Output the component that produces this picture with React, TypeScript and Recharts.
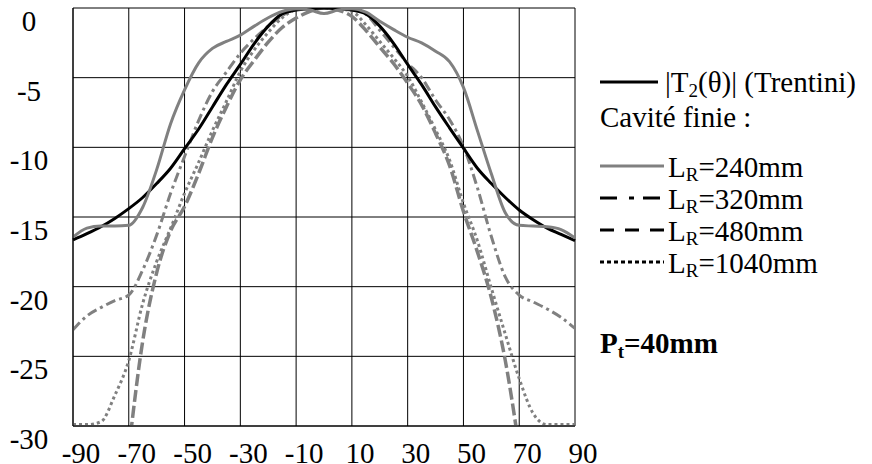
import { LineChart, Line, XAxis, YAxis, CartesianGrid } from "recharts";

const FONT = "Liberation Serif, Times New Roman, Tinos, serif";

// angle, degrees
const THETA = [
  -90, -85, -80, -75, -70, -65, -60, -55, -50, -45, -40, -35, -30, -25, -20,
  -15, -10, -5, 0, 5, 10, 15, 20, 25, 30, 35, 40, 45, 50, 55, 60, 65, 70, 75,
  80, 85, 90,
];

// |T2(θ)| (Trentini), dB
const TRENTINI = [
  -16.65, -16.2, -15.7, -15.1, -14.4, -13.6, -12.6, -11.5, -10.1, -8.7, -7.1,
  -5.5, -4.05, -2.55, -1.3, -0.42, -0.15, -0.05, 0, -0.05, -0.15, -0.42, -1.3,
  -2.55, -4.05, -5.5, -7.1, -8.6, -10.06, -11.5, -12.6, -13.6, -14.5, -15.2,
  -15.8, -16.25, -16.7,
];

// cavité finie, LR = 240 mm
const LR240 = [
  -16.45, -15.8, -15.65, -15.65, -15.6, -14.3, -11.6, -8.3, -5.87, -3.95, -2.9,
  -2.4, -1.95, -1.3, -0.7, -0.25, -0.05, -0.15, -0.4, -0.15, -0.05, -0.3,
  -0.95, -1.55, -2.1, -2.5, -3.1, -3.85, -5.7, -8.8, -11.9, -14.7, -15.6,
  -15.65, -15.7, -15.9, -16.5,
];

// LR = 320 mm
const LR320 = [
  -23.1, -22.1, -21.5, -21.0, -20.6, -18.8, -16.3, -13.3, -10.66, -8.1, -6.0,
  -4.6, -3.25, -2.2, -1.3, -0.55, -0.08, 0, 0, 0, -0.08, -0.45, -1.6, -2.8,
  -3.95, -5.0, -6.6, -8.0, -9.94, -12.9, -16.4, -19.3, -20.6, -21.1, -21.6,
  -22.2, -23.0,
];

// LR = 480 mm (goes below -30 outside ±70)
const LR480 = [
  null, null, null, null, -31.7, -23.9, -19.0, -16.0, -14.25, -11.9, -9.3,
  -7.1, -5.15, -3.75, -2.45, -1.4, -0.72, -0.24, 0, -0.15, -0.6, -1.6, -2.8,
  -4.0, -5.4, -6.95, -9.0, -11.3, -14.6, -17.5, -20.8, -25.3, -31.6, null,
  null, null, null,
];

// LR = 1040 mm
const LR1040 = [
  -29.9, -29.9, -29.7, -27.8, -25.3, -21.2, -18.2, -15.8, -13.3, -11.1, -8.8,
  -6.7, -4.55, -3.0, -1.75, -0.7, -0.12, 0, 0, -0.05, -0.24, -1.2, -2.4, -3.6,
  -4.9, -6.75, -8.74, -10.9, -14.0, -16.7, -20.1, -23.4, -26.6, -29.1, -29.9,
  -29.9, -29.9,
];

const X_TICKS = [-90, -70, -50, -30, -10, 10, 30, 50, 70, 90];
const Y_TICKS = [-30, -25, -20, -15, -10, -5, 0];

const data = THETA.map((t, i) => ({
  theta: t,
  trentini: TRENTINI[i],
  lr240: LR240[i],
  lr320: LR320[i],
  lr480: LR480[i],
  lr1040: LR1040[i],
}));

const GRAY = "#808080";
const textStyle = { fontFamily: FONT, fontSize: 29 };

const XTick = (props: any) => {
  const { x, y, payload } = props;
  return (
    <text x={x + 8} y={y + 29} textAnchor="middle" style={textStyle} fill="#000">
      {payload.value}
    </text>
  );
};

const YTick = (props: any) => {
  const { y, payload } = props;
  return (
    <text x={29} y={y + 23} textAnchor="middle" style={textStyle} fill="#000">
      {payload.value}
    </text>
  );
};

function Legend() {
  const sub = { fontSize: 19 };
  const entries = [
    { y: 166, stroke: GRAY, dash: undefined, label: "240" },
    { y: 198, stroke: "#000", dash: "17 12 5 9", label: "320" },
    { y: 230, stroke: "#000", dash: "14 11", label: "480" },
    { y: 262, stroke: "#000", dash: "4 3", label: "1040" },
  ];
  return (
    <svg
      width={872}
      height={464}
      style={{ position: "absolute", left: 0, top: 0, pointerEvents: "none", ...textStyle }}
    >
      <line x1={600} x2={658} y1={82} y2={82} stroke="#000" strokeWidth={3} />
      <text x={665} y={92} style={textStyle}>
        |T<tspan style={sub} dy={5}>2</tspan>
        <tspan dy={-5}>(θ)| (Trentini)</tspan>
      </text>
      <text x={600} y={127} style={textStyle}>
        Cavité finie :
      </text>
      {entries.map((e) => (
        <g key={e.label}>
          <line
            x1={600}
            x2={664}
            y1={e.y}
            y2={e.y}
            stroke={e.stroke}
            strokeWidth={3}
            strokeDasharray={e.dash}
          />
          <text x={668} y={e.y + 11} style={textStyle}>
            L<tspan style={sub} dy={4}>R</tspan>
            <tspan dy={-4}>={e.label}mm</tspan>
          </text>
        </g>
      ))}
      <text x={600} y={353} style={{ ...textStyle, fontWeight: "bold" }}>
        P<tspan style={sub} dy={5}>t</tspan>
        <tspan dy={-5}>=40mm</tspan>
      </text>
    </svg>
  );
}

export default function App() {
  return (
    <div
      style={{
        position: "fixed",
        left: 0,
        top: 0,
        width: 872,
        height: 464,
        background: "#fff",
        fontFamily: FONT,
      }}
    >
      <LineChart
        width={872}
        height={464}
        data={data}
        margin={{ top: 8, right: 297, bottom: 0, left: 0 }}
      >
        <CartesianGrid stroke="#000" strokeWidth={1} />
        <XAxis
          dataKey="theta"
          type="number"
          domain={[-90, 90]}
          ticks={X_TICKS}
          height={38}
          tick={<XTick />}
          tickLine={false}
          axisLine={{ stroke: "#000" }}
          interval={0}
        />
        <YAxis
          type="number"
          domain={[-30, 0]}
          ticks={Y_TICKS}
          width={73}
          tick={<YTick />}
          tickLine={false}
          axisLine={{ stroke: "#000" }}
          allowDataOverflow
          interval={0}
        />
        <Line
          dataKey="lr1040"
          name="LR=1040mm"
          stroke={GRAY}
          strokeWidth={3}
          strokeDasharray="3 3"
          dot={false}
          type="monotone"
          isAnimationActive={false}
        />
        <Line
          dataKey="lr480"
          name="LR=480mm"
          stroke={GRAY}
          strokeWidth={3.5}
          strokeDasharray="12 4"
          dot={false}
          type="monotone"
          isAnimationActive={false}
        />
        <Line
          dataKey="lr320"
          name="LR=320mm"
          stroke={GRAY}
          strokeWidth={3}
          strokeDasharray="10 4 3 4"
          dot={false}
          type="monotone"
          isAnimationActive={false}
        />
        <Line
          dataKey="trentini"
          name="|T2(θ)| (Trentini)"
          stroke="#000"
          strokeWidth={3}
          dot={false}
          type="monotone"
          isAnimationActive={false}
        />
        <Line
          dataKey="lr240"
          name="LR=240mm"
          stroke={GRAY}
          strokeWidth={3}
          dot={false}
          type="monotone"
          isAnimationActive={false}
        />
      </LineChart>
      <Legend />
    </div>
  );
}
